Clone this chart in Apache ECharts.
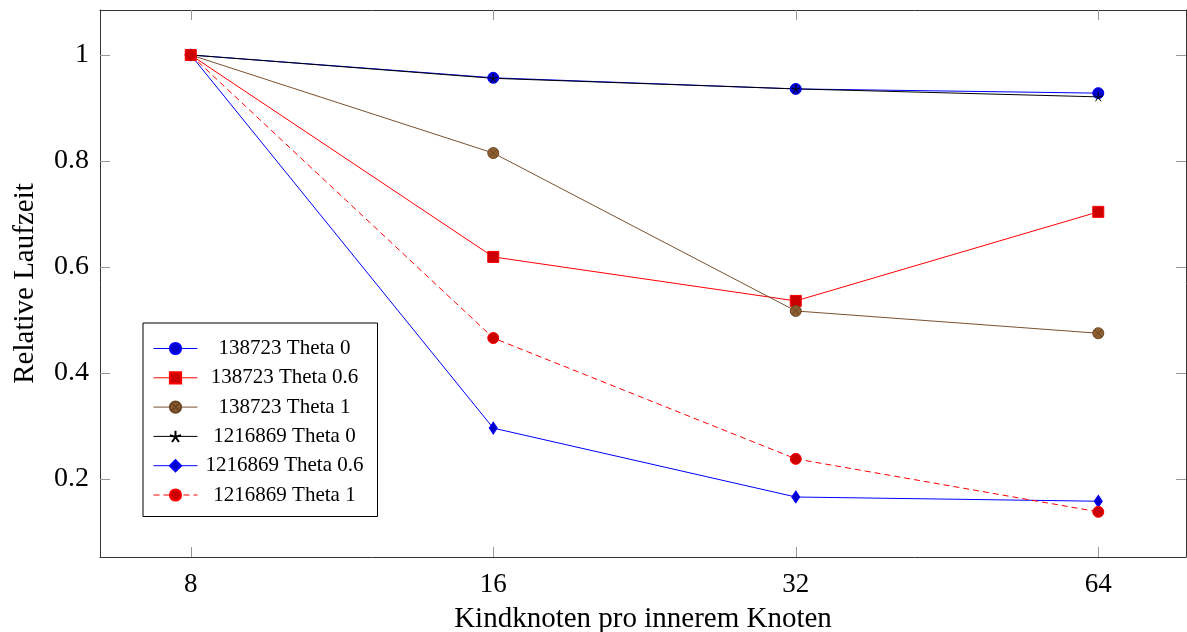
<!DOCTYPE html>
<html>
<head>
<meta charset="utf-8">
<script src="https://cdn.jsdelivr.net/npm/echarts@6/dist/echarts.min.js"></script>
<style>html,body{margin:0;padding:0;background:#fff}#c{width:1187px;height:632px}</style>
</head>
<body>
<div id="c"></div>
<script>
const categories = ['8', '16', '32', '64'];
const yTicks = [0.2, 0.4, 0.6, 0.8, 1];
const seriesNames = ['138723 Theta 0', '138723 Theta 0.6', '138723 Theta 1', '1216869 Theta 0', '1216869 Theta 0.6', '1216869 Theta 1'];
const s138723Theta0 = [1, 0.957, 0.936, 0.928];
const s138723Theta06 = [1, 0.619, 0.536, 0.704];
const s138723Theta1 = [1, 0.815, 0.517, 0.475];
const s1216869Theta0 = [1, 0.956, 0.936, 0.921];
const s1216869Theta06 = [1, 0.296, 0.166, 0.158];
const s1216869Theta1 = [1, 0.466, 0.238, 0.138];

const FONT = 'Liberation Serif';
const toPts = arr => arr.map((v, i) => [i, v]);
const starPath = 'path://M0,-10 L0,0 M9.51,-3.09 L0,0 M5.88,8.09 L0,0 M-5.88,8.09 L0,0 M-9.51,-3.09 L0,0';
const otimesPath = 'path://M10,0 A10,10 0 1,1 -10,0 A10,10 0 1,1 10,0 Z M-7.07,-7.07 L7.07,7.07 M-7.07,7.07 L7.07,-7.07';

function mk(name, data, lineColor, symbol, size, fill, border, dashed) {
  return {
    name, type: 'line', data: toPts(data), symbol, symbolSize: size,
    showAllSymbol: true, animation: false,
    lineStyle: { color: lineColor, width: 1, type: dashed ? [6, 4] : 'solid' },
    itemStyle: { color: fill, borderColor: border, borderWidth: 1 },
    emphasis: { disabled: true }
  };
}

const axisLineStyle = { show: true, onZero: false, lineStyle: { color: '#333', width: 1 } };
const tickStyle = { inside: true, length: 10, lineStyle: { color: '#999', width: 1 } };

const option = {
  backgroundColor: '#fff',
  animation: false,
  grid: { left: 100, right: 1, top: 10, height: 547, containLabel: false, outerBoundsMode: 'none' },
  xAxis: [{
    type: 'value', min: -0.3, max: 3.29,
    axisLine: axisLineStyle,
    axisTick: Object.assign({ customValues: [0, 1, 2, 3] }, tickStyle),
    axisLabel: { customValues: [0, 1, 2, 3], formatter: v => categories[Math.round(v)], fontFamily: FONT, fontSize: 27, color: '#000', margin: 14 },
    splitLine: { show: false },
    name: 'Kindknoten pro innerem Knoten', nameLocation: 'middle', nameGap: 48,
    nameTextStyle: { fontFamily: FONT, fontSize: 29, color: '#000' }
  }, {
    type: 'value', min: -0.3, max: 3.29, position: 'top',
    axisLine: axisLineStyle,
    axisTick: Object.assign({ customValues: [0, 1, 2, 3] }, tickStyle),
    axisLabel: { show: false }, splitLine: { show: false }
  }],
  yAxis: [{
    type: 'value', min: 0.0528, max: 1.0849,
    axisLine: axisLineStyle,
    axisTick: Object.assign({ customValues: yTicks }, tickStyle),
    axisLabel: { customValues: yTicks, formatter: v => String(Math.round(v * 10) / 10), fontFamily: FONT, fontSize: 28, color: '#000', margin: 11 },
    splitLine: { show: false },
    name: 'Relative Laufzeit', nameLocation: 'middle', nameGap: 60,
    nameTextStyle: { fontFamily: FONT, fontSize: 29, color: '#000' }
  }, {
    type: 'value', min: 0.0528, max: 1.0849, position: 'right',
    axisLine: axisLineStyle,
    axisTick: Object.assign({ customValues: yTicks }, tickStyle),
    axisLabel: { show: false }, splitLine: { show: false }
  }],
  legend: {
    orient: 'vertical', left: 143, top: 323,
    padding: [15, 11, 11, 10],
    itemWidth: 44, itemHeight: 14, itemGap: 8.3,
    backgroundColor: '#fff', borderColor: '#000', borderWidth: 1,
    lineStyle: { width: 1 },
    data: seriesNames,
    formatter: n => '{a|' + n + '}',
    textStyle: {
      fontFamily: FONT, fontSize: 21, color: '#000',
      rich: { a: { fontFamily: FONT, fontSize: 21, color: '#000', width: 164, align: 'center', lineHeight: 21 } }
    },
    selectedMode: false
  },
  series: [
    mk(seriesNames[0], s138723Theta0, '#0000ff', 'circle', 11, '#0000cc', '#0000ff'),
    mk(seriesNames[1], s138723Theta06, '#ff0000', 'rect', 11, '#cc0000', '#ff0000'),
    mk(seriesNames[2], s138723Theta1, '#7a5230', otimesPath, 11, '#8d5e30', '#6b4523'),
    mk(seriesNames[3], s1216869Theta0, '#000000', starPath, 9, '#000000', '#000000'),
    mk(seriesNames[4], s1216869Theta06, '#0000ff', 'diamond', [8, 12], '#0000cc', '#0000ff'),
    mk(seriesNames[5], s1216869Theta1, '#ff0000', 'circle', 11, '#cc0000', '#ff0000', true)
  ]
};

const chart = echarts.init(document.getElementById('c'), null, { renderer: 'canvas' });
chart.setOption(option);
</script>
</body>
</html>
